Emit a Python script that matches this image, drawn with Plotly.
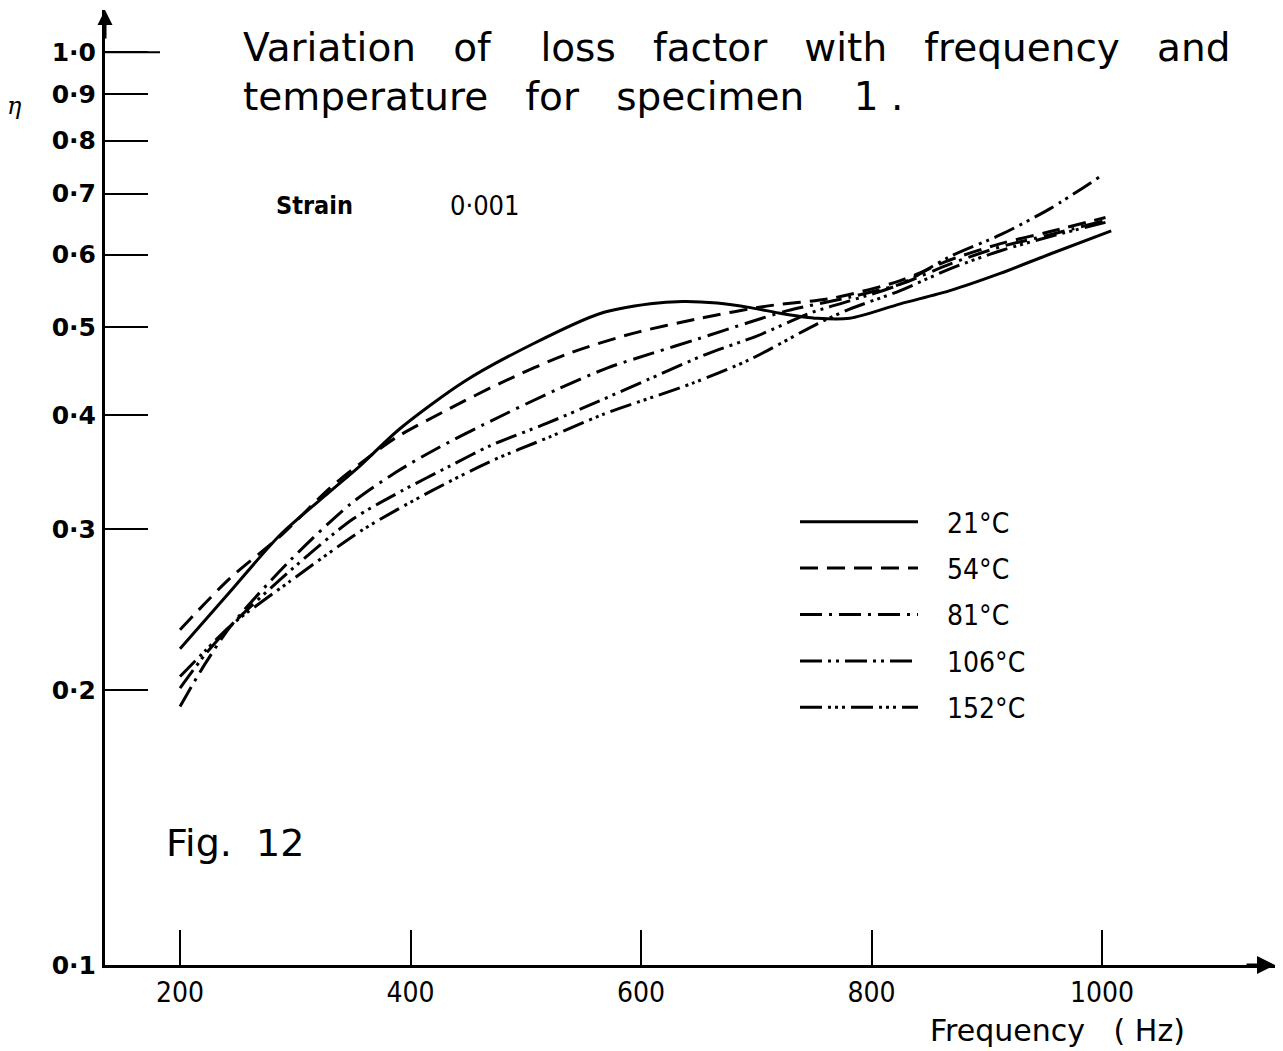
import plotly.graph_objects as go

# ---- data (frequency in Hz, loss factor eta) ----
freq_21 = [200, 243, 287, 330, 356, 391, 447, 506, 564, 608, 636, 666, 695, 723, 753, 781, 825, 868, 911, 955, 1008]
eta_21 = [0.222, 0.256, 0.296, 0.330, 0.352, 0.387, 0.436, 0.479, 0.517, 0.530, 0.533, 0.531, 0.525, 0.517, 0.511, 0.511, 0.530, 0.548, 0.572, 0.601, 0.637]

freq_54 = [200, 243, 287, 330, 356, 387, 434, 478, 536, 593, 651, 709, 767, 825, 868, 912, 955, 1003]
eta_54 = [0.233, 0.265, 0.295, 0.333, 0.354, 0.378, 0.407, 0.434, 0.467, 0.492, 0.511, 0.527, 0.538, 0.562, 0.592, 0.617, 0.636, 0.659]

freq_81 = [200, 222, 245, 295, 348, 388, 423, 469, 527, 571, 610, 649, 692, 727, 781, 825, 868, 912, 955, 1003]
eta_81 = [0.192, 0.214, 0.236, 0.277, 0.320, 0.347, 0.368, 0.394, 0.427, 0.451, 0.468, 0.485, 0.505, 0.521, 0.539, 0.557, 0.586, 0.612, 0.631, 0.654]

freq_106 = [200, 222, 245, 295, 350, 393, 434, 470, 518, 564, 608, 657, 701, 747, 781, 825, 868, 912, 955, 1000]
eta_106 = [0.201, 0.219, 0.236, 0.270, 0.308, 0.331, 0.352, 0.371, 0.392, 0.415, 0.439, 0.467, 0.489, 0.518, 0.534, 0.557, 0.597, 0.631, 0.674, 0.733]

freq_152 = [200, 222, 245, 295, 359, 417, 469, 521, 567, 645, 695, 753, 781, 825, 868, 912, 955, 1003]
eta_152 = [0.207, 0.221, 0.236, 0.263, 0.300, 0.330, 0.356, 0.379, 0.401, 0.434, 0.461, 0.504, 0.523, 0.548, 0.579, 0.606, 0.628, 0.651]

series_names = ["21°C", "54°C", "81°C", "106°C", "152°C"]
x_ticks = [200, 400, 600, 800, 1000]
x_tick_text = ["200", "400", "600", "800", "1000"]
y_ticks = [0.1, 0.2, 0.3, 0.4, 0.5, 0.6, 0.7, 0.8, 0.9, 1.0]
y_tick_text = ["0·1", "0·2", "0·3", "0·4", "0·5", "0·6", "0·7", "0·8", "0·9", "1·0"]

# ---- styling ----
W, H = 1283, 1051
ML, MR, MT, MB = 105, 8, 10, 86
PW, PH = W - ML - MR, H - MT - MB
FONT = "DejaVu Sans, sans-serif"
COND = "DejaVu Sans Condensed, DejaVu Sans, sans-serif"
NARROW = "Liberation Sans Narrow, DejaVu Sans Condensed, sans-serif"
NB = "\u00a0"
dashes = ["solid", "18px,9px", "22px,7px,3px,7px", "22px,6px,3px,5px,3px,6px",
          "22px,6px,3px,4px,3px,4px,3px,6px"]


def px(xp):
    return (xp - ML) / PW


def py(yp):
    return (H - MB - yp) / PH


fig = go.Figure()
all_x = [freq_21, freq_54, freq_81, freq_106, freq_152]
all_y = [eta_21, eta_54, eta_81, eta_106, eta_152]
for i, (xs, ys) in enumerate(zip(all_x, all_y)):
    fig.add_trace(go.Scatter(
        x=xs, y=ys, mode="lines", name=NB * 3 + series_names[i], legendgroup=series_names[i],
        line=dict(color="black", width=3, dash=dashes[i], shape="spline", smoothing=0.8),
    ))

sp3 = NB * 3
annotations = [
    dict(text=sp3.join(["Variation", "of", NB + "loss", "factor", "with", "frequency", "and"]),
         x=px(241), y=py(47), xanchor="left", yanchor="middle", font=dict(size=39, family=FONT)),
    dict(text=sp3.join(["temperature", "for", "specimen", NB + "1" + NB + "."]),
         x=px(241), y=py(97), xanchor="left", yanchor="middle", font=dict(size=39, family=FONT)),
    dict(text="<i>η</i>", x=px(14), y=py(106), xanchor="center", yanchor="middle",
         font=dict(size=24, family="DejaVu Serif, serif")),
    dict(text="<b>Strain</b>", x=px(274), y=py(205), xanchor="left", yanchor="middle",
         font=dict(size=25, family=COND)),
    dict(text="0·001", x=px(448), y=py(205), xanchor="left", yanchor="middle",
         font=dict(size=27, family=COND)),
    dict(text="Fig." + NB + " 12", x=px(164), y=py(843), xanchor="left", yanchor="middle",
         font=dict(size=38, family=FONT)),
    dict(text="Frequency" + NB * 3 + "(" + NB + "Hz)", x=px(928), y=py(1030), xanchor="left",
         yanchor="middle", font=dict(size=30, family=FONT)),
    # axis arrowheads
    dict(text="", x=1.0, y=0.0, showarrow=True, ax=-30, ay=0, arrowhead=2, arrowsize=1.2,
         arrowwidth=3, arrowcolor="black"),
    dict(text="", x=0.0, y=1.0, showarrow=True, ax=0, ay=30, arrowhead=2, arrowsize=1.0,
         arrowwidth=3, arrowcolor="black"),
]
for a in annotations:
    a.setdefault("xref", "paper")
    a.setdefault("yref", "paper")
    a.setdefault("showarrow", False)
    a.setdefault("font", {})
    a["font"]["color"] = "black"

fig.update_layout(
    width=W, height=H,
    margin=dict(l=ML, r=MR, t=MT, b=MB, pad=0),
    paper_bgcolor="white", plot_bgcolor="white",
    annotations=annotations,
    shapes=[dict(type="line", xref="paper", yref="y", x0=0, x1=px(160), y0=1.0, y1=1.0,
                 line=dict(color="black", width=2))],
    showlegend=True,
    legend=dict(x=px(795), y=py(497), xanchor="left", yanchor="top",
                itemwidth=118, tracegroupgap=7,
                font=dict(size=28, family=COND, color="black"),
                bgcolor="rgba(0,0,0,0)"),
    xaxis=dict(range=[134.9, 1150.1], showgrid=False, zeroline=False,
               showline=True, linecolor="black", linewidth=3,
               ticks="inside", ticklen=35, tickwidth=2, tickcolor="black",
               tickvals=x_ticks, ticktext=x_tick_text, ticklabelstandoff=0,
               tickfont=dict(size=28, family=NARROW, color="black")),
    yaxis=dict(type="log", range=[-1.0, 0.0462], showgrid=False, zeroline=False,
               showline=True, linecolor="black", linewidth=3,
               ticks="inside", ticklen=43, tickwidth=2, tickcolor="black",
               tickvals=y_ticks, ticktext=y_tick_text, ticklabelstandoff=1,
               tickfont=dict(size=25, family="DejaVu Sans, sans-serif",
                             color="black", weight="bold")),
)

fig.write_html("out.html")
